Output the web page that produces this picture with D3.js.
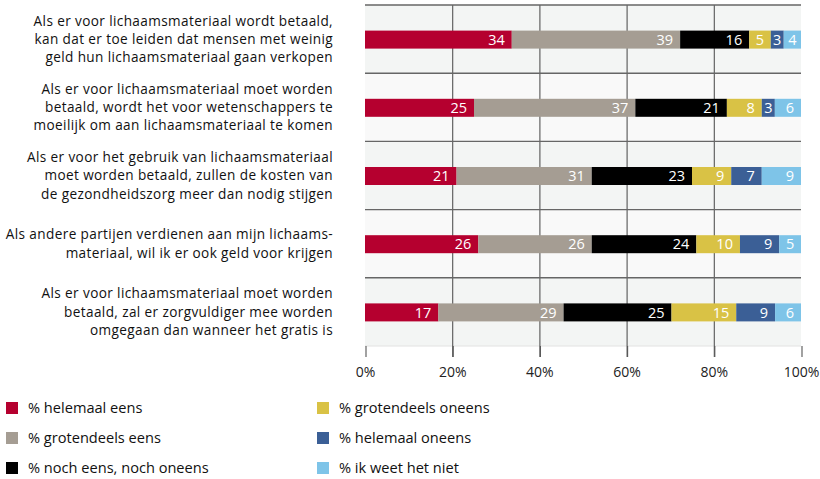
<!DOCTYPE html>
<html><head><meta charset="utf-8">
<script src="https://cdn.jsdelivr.net/npm/d3@7"></script>
<style>body{margin:0;background:#fff;} svg{display:block;font-family:"Open Sans",Lato,sans-serif;}</style>
</head><body>
<svg id="c" width="820" height="479"></svg>
<script>
const categories = [
  ["Als er voor lichaamsmateriaal wordt betaald,","kan dat er toe leiden dat mensen met weinig","geld hun lichaamsmateriaal gaan verkopen"],
  ["Als er voor lichaamsmateriaal moet worden","betaald, wordt het voor wetenschappers te","moeilijk om aan lichaamsmateriaal te komen"],
  ["Als er voor het gebruik van lichaamsmateriaal","moet worden betaald, zullen de kosten van","de gezondheidszorg meer dan nodig stijgen"],
  ["Als andere partijen verdienen aan mijn lichaams-","materiaal, wil ik er ook geld voor krijgen"],
  ["Als er voor lichaamsmateriaal moet worden","betaald, zal er zorgvuldiger mee worden","omgegaan dan wanneer het gratis is"]
];
const seriesNames = ["% helemaal eens","% grotendeels eens","% noch eens, noch oneens","% grotendeels oneens","% helemaal oneens","% ik weet het niet"];
const helemaalEens      = [34,25,21,26,17];
const grotendeelsEens   = [39,37,31,26,29];
const nochEensNochOneens= [16,21,23,24,25];
const grotendeelsOneens = [5,8,9,10,15];
const helemaalOneens    = [3,3,7,9,9];
const weetHetNiet       = [4,6,9,5,6];
const tickValues = [0,20,40,60,80,100];
const colors = ["#b5002f","#a59d93","#000000","#d9c245","#3b5f96","#7ec4e8"];

const series = [helemaalEens,grotendeelsEens,nochEensNochOneens,grotendeelsOneens,helemaalOneens,weetHetNiet];
const svg = d3.select("#c");
const x = d3.scaleLinear().domain([0,100]).range([365,801]);
const y = d3.scaleBand().domain(d3.range(categories.length)).range([5,346]);

// row backgrounds
svg.append("g").selectAll("rect").data(d3.range(categories.length)).join("rect")
  .attr("x",x(0)).attr("width",x(100)-x(0))
  .attr("y",i=>y(i)).attr("height",y.bandwidth())
  .attr("fill",i=>i%2===0?"#f3f5f4":"#f9f9f9");
svg.append("line").attr("x1",x(0)).attr("x2",x(100)).attr("y1",346).attr("y2",346).attr("stroke","#e2e2e2");

// vertical gridlines
svg.append("g").selectAll("line").data(tickValues.filter(t=>t>0&&t<100)).join("line")
  .attr("x1",d=>x(d)+0.5).attr("x2",d=>x(d)+0.5).attr("y1",5).attr("y2",357)
  .attr("stroke","#555").attr("stroke-width",1.1);
// horizontal separators
svg.append("g").selectAll("line").data(d3.range(categories.length)).join("line")
  .attr("x1",x(0)).attr("x2",x(100)).attr("y1",i=>y(i)).attr("y2",i=>y(i))
  .attr("stroke","#666").attr("stroke-width",1.4);

// axis
const axis = svg.append("g").attr("transform","translate(0,346)")
  .call(d3.axisBottom(x).tickValues(tickValues).tickFormat(d=>d+"%").tickSize(11).tickPadding(10));
axis.select(".domain").remove();
axis.selectAll(".tick line").attr("stroke","#555").attr("stroke-width",1.1).attr("transform","translate(0.5,0)");
axis.selectAll(".tick text").attr("fill","#222").attr("font-size",14).style("font-family","'Open Sans',sans-serif");

// stacked bars
const barH = 18;
const rows = categories.map((c,i)=>{
  const vals = series.map(s=>s[i]);
  const total = d3.sum(vals);
  let cum = 0;
  return vals.map((v,k)=>{ const s0=cum/total*100; cum+=v; return {i,k,v,x0:s0,x1:cum/total*100}; });
});
const segs = rows.flat();
const cy = i => y(i)+y.bandwidth()/2;
svg.append("g").selectAll("rect").data(segs).join("rect")
  .attr("x",d=>x(d.x0)).attr("width",d=>x(d.x1)-x(d.x0))
  .attr("y",d=>cy(d.i)-barH/2+0.5).attr("height",barH)
  .attr("fill",d=>colors[d.k]);
svg.append("g").selectAll("text").data(segs).join("text")
  .attr("y",d=>cy(d.i)+0.5).attr("dy","0.36em")
  .attr("text-anchor","end").attr("fill","#fff").attr("font-size",14.5)
  .text(d=>d.v)
  .attr("x",function(d){
    const w = x(d.x1)-x(d.x0), tw = this.getComputedTextLength();
    return x(d.x1) - Math.min(7, Math.max(1,(w-tw)/2));
  });

// category labels
const lh = 18.3;
const lab = svg.append("g");
categories.forEach((lines,i)=>{
  const t = lab.append("text").attr("text-anchor","end").attr("font-size",13.6).attr("fill","#111")
    .attr("letter-spacing",0.38);
  const y0 = cy(i) - (lines.length-1)*lh/2;
  lines.forEach((l,j)=>t.append("tspan").attr("x",333).attr("y",y0+j*lh).attr("dy","0.36em").text(l));
});

// legend
const leg = svg.append("g");
seriesNames.forEach((n,k)=>{
  const col = Math.floor(k/3), row = k%3;
  const gx = col===0?6:317, gy = 402+row*30;
  leg.append("rect").attr("x",gx).attr("y",gy).attr("width",12).attr("height",12).attr("fill",colors[k]);
  leg.append("text").attr("x",gx+22).attr("y",gy+6).attr("dy","0.36em").attr("font-size",14.6).attr("fill","#111").text(n);
});
</script>
</body></html>
